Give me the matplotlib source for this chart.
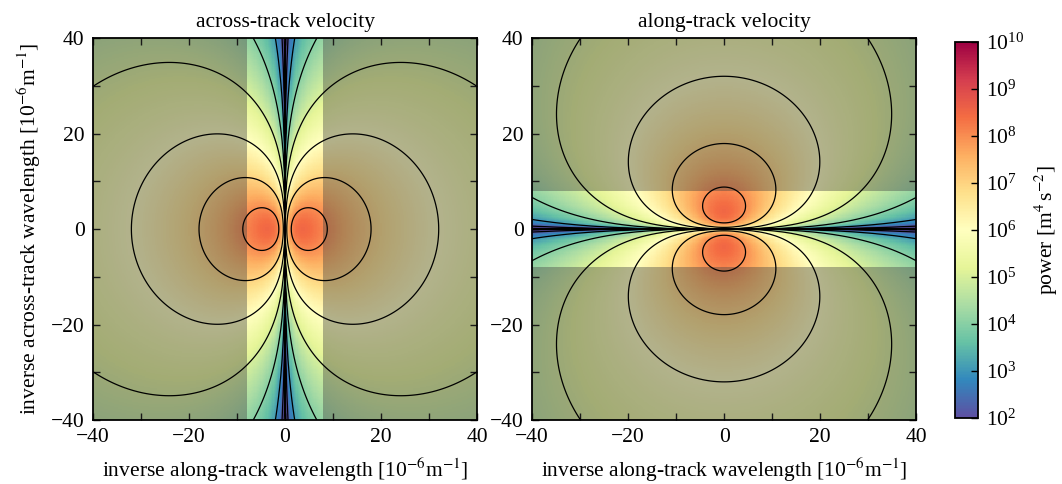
import numpy as np
import matplotlib.pyplot as plt
from matplotlib.colors import LogNorm
from matplotlib.ticker import MultipleLocator

plt.rcParams['font.family'] = ['Liberation Serif', 'DejaVu Serif']
plt.rcParams['mathtext.fontset'] = 'stix'
plt.rcParams['font.size'] = 15.5

# wavenumber grid [1e-6 m^-1]
k_lim = 40
k_step = 0.25

# SSH spectrum model, parameters
amplitude = 7.05e7
k_rolloff = 5.5
slope = 6.3

# unshaded band half-width [1e-6 m^-1]
band = 8

levels = [1e1, 1e2, 1e3, 1e4, 1e5, 1e6, 1e7, 1e8]
cbar_ticks = [1e2, 1e3, 1e4, 1e5, 1e6, 1e7, 1e8, 1e9, 1e10]
titles = ["across-track velocity", "along-track velocity"]

shade_color = "0.25"
shade_alpha = 0.4

k = np.arange(-k_lim, k_lim + k_step / 2, k_step)
KX, KY = np.meshgrid(k, k)
ssh = amplitude / (1 + (KX**2 + KY**2) / k_rolloff**2)**(slope / 2)
p_across = KX**2 * ssh
p_along = KY**2 * ssh

norm = LogNorm(vmin=1e2, vmax=1e10)

fig = plt.figure(figsize=(10.62, 4.84), dpi=100)
ax1 = fig.add_axes([0.0876, 0.1322, 0.3616, 0.789])
ax2 = fig.add_axes([0.501, 0.1322, 0.3616, 0.789])
cax = fig.add_axes([0.899, 0.1364, 0.0217, 0.777])

for i, (ax, p) in enumerate([(ax1, p_across), (ax2, p_along)]):
    pcm = ax.pcolormesh(k, k, np.ma.masked_less_equal(p, 0), cmap="Spectral_r",
                        norm=norm, shading="nearest", rasterized=True)
    if i == 0:
        ax.axvspan(-k_lim, -band, color=shade_color, alpha=shade_alpha, lw=0, zorder=2)
        ax.axvspan(band, k_lim, color=shade_color, alpha=shade_alpha, lw=0, zorder=2)
    else:
        ax.axhspan(-k_lim, -band, color=shade_color, alpha=shade_alpha, lw=0, zorder=2)
        ax.axhspan(band, k_lim, color=shade_color, alpha=shade_alpha, lw=0, zorder=2)
    ax.contour(k, k, p, levels=levels, colors="k", linewidths=0.9, zorder=3)

    ax.set_xlim(-k_lim, k_lim)
    ax.set_ylim(-k_lim, k_lim)
    ax.set_xticks([-40, -20, 0, 20, 40])
    ax.set_yticks([-40, -20, 0, 20, 40])
    ax.xaxis.set_minor_locator(MultipleLocator(10))
    ax.yaxis.set_minor_locator(MultipleLocator(10))
    ax.tick_params(which="both", direction="in", top=True, right=True,
                   length=5, width=1, pad=6)
    for s in ax.spines.values():
        s.set_linewidth(1.3)
    ax.set_title(titles[i], fontsize=15.5, pad=8)
    ax.set_xlabel(r"inverse along-track wavelength [10$^{-6}$m$^{-1}$]", labelpad=6)

ax1.set_ylabel(r"inverse across-track wavelength [10$^{-6}$m$^{-1}$]", labelpad=6)

cb = fig.colorbar(pcm, cax=cax, ticks=cbar_ticks)
cb.ax.minorticks_off()
cb.ax.tick_params(direction="in", length=5, width=1, pad=6)
cb.outline.set_linewidth(1.3)
cb.set_label(r"power [m$^4\,$s$^{-2}$]", labelpad=6)

fig.savefig("out.png", dpi=100)
